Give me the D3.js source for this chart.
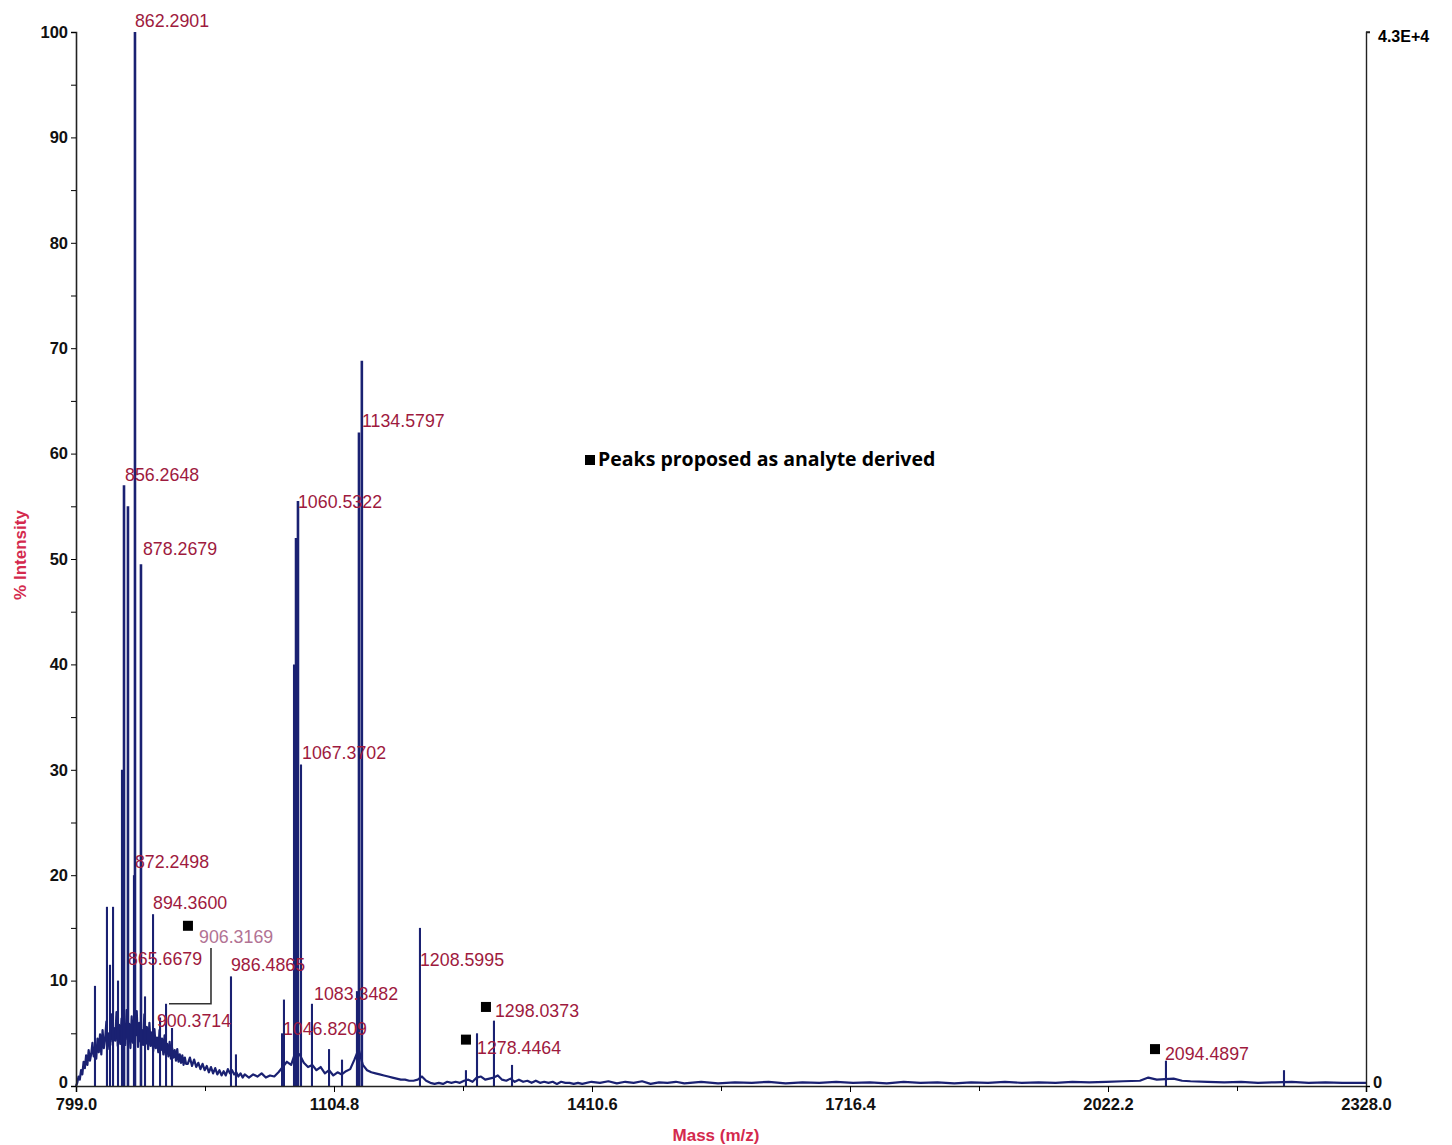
<!DOCTYPE html>
<html>
<head>
<meta charset="utf-8">
<script src="https://cdn.jsdelivr.net/npm/d3@7"></script>
<style>
  body { margin: 0; background: #fff; }
  svg { display: block; }
  .tick text { font-family: "Liberation Sans", Arial, sans-serif; font-weight: bold; font-size: 16.5px; fill: #111; }
  .peak-label { font-family: "Liberation Sans", Arial, sans-serif; font-size: 17.8px; fill: #9e1a3e; }
</style>
</head>
<body>
<svg id="chart" width="1452" height="1145"></svg>
<script>
  // ---- data ----
  const xTickLabels = ["799.0", "1104.8", "1410.6", "1716.4", "2022.2", "2328.0"];
  const yTicks = [0, 10, 20, 30, 40, 50, 60, 70, 80, 90, 100];

  // noisy baseline [m/z, % intensity]
  const baseline = [
    [799, 0], [800.5, 0.3], [802, 0.9], [803.5, 0.6], [805, 1.5], [806.5, 1.1], [808, 2.3], [809.5, 1.7],
    [811, 2.9], [812.5, 2.0], [814, 3.4], [815.5, 2.4], [817, 3.0], [818.5, 4.1], [820, 2.8], [821.5, 3.7],
    [823, 2.6], [824.5, 4.5], [826, 3.2], [827.5, 4.9], [829, 3.0], [830.5, 5.3], [832, 3.6], [833.5, 4.4],
    [835, 6.1], [836.5, 3.5], [838, 5.0], [839.5, 4.2], [841, 6.8], [842.5, 3.9], [844, 5.5], [845.5, 4.3],
    [847, 7.0], [848.5, 3.8], [850, 5.8], [851.5, 4.0], [853, 6.4], [854.5, 4.6], [856, 5.7], [857.5, 3.9],
    [859, 7.2], [860.5, 4.4], [862, 5.9], [863.5, 3.6], [865, 6.6], [866.5, 4.1], [868, 5.4], [869.5, 4.8],
    [871, 7.1], [872.5, 3.7], [874, 6.0], [875.5, 4.2], [877, 5.3], [878.5, 3.9], [880, 6.8], [881.5, 4.0],
    [883, 5.6], [884.5, 3.5], [886, 6.0], [887.5, 3.8], [889, 5.1], [890.5, 3.3], [892, 5.4], [893.5, 3.6],
    [895, 4.6], [896.5, 3.2], [898, 5.3], [899.5, 3.4], [901, 4.5], [902.5, 3.0], [904, 4.8], [905.5, 2.9],
    [907, 4.0], [908.5, 2.8], [910, 4.2], [911.5, 2.6], [913, 3.6], [914.5, 2.7], [916, 3.4], [917.5, 2.4],
    [919, 3.5], [920.5, 2.3], [922, 3.0], [923.5, 2.2], [925, 2.9], [926.5, 2.0], [928, 2.7], [929.5, 2.1],
    [931.5, 2.1], [934, 2.7], [936.5, 1.9], [939, 2.5], [941.5, 1.8], [944, 2.2], [946.5, 1.6], [949, 2.1],
    [951.5, 1.5], [954, 1.9], [956.5, 1.3], [959, 1.8], [961.5, 1.2], [964, 1.7], [966.5, 1.1], [969, 1.5],
    [971.5, 1.0], [974, 1.4], [976.5, 1.0], [979, 1.6], [981.5, 1.2], [984, 1.5], [986.5, 1.1], [989, 1.3],
    [991.5, 0.9], [994, 1.2], [996.5, 0.8], [999, 1.1], [1004, 0.8], [1009, 1.1], [1014, 0.9], [1019, 1.2],
    [1024, 0.8], [1029, 1.0], [1034, 0.9], [1039, 1.3], [1044, 1.8], [1049, 2.3], [1054, 2.0], [1059, 3.2],
    [1064, 3.0], [1069, 2.2], [1074, 1.8], [1079, 2.0], [1084, 1.5], [1089, 1.8], [1094, 1.2], [1099, 1.5],
    [1104, 1.0], [1109, 1.3], [1114, 1.1], [1119, 1.4], [1124, 1.6], [1129, 2.5], [1134, 3.5], [1139, 2.0],
    [1144, 1.5], [1149, 1.3], [1154, 1.2], [1159, 1.1], [1164, 1.0], [1169, 0.9], [1174, 0.8], [1179, 0.7],
    [1184, 0.6], [1189, 0.6], [1194, 0.5], [1199, 0.5], [1204, 0.6], [1209, 0.9], [1214, 0.5], [1219, 0.3],
    [1224, 0.2], [1229, 0.3], [1234, 0.2], [1239, 0.4], [1244, 0.3], [1249, 0.4], [1254, 0.3], [1259, 0.5],
    [1264, 0.6], [1269, 0.4], [1274, 0.8], [1279, 0.9], [1284, 0.6], [1289, 0.7], [1294, 0.8], [1299, 1.0],
    [1304, 0.6], [1309, 0.5], [1314, 0.7], [1319, 0.4], [1324, 0.6], [1329, 0.4], [1334, 0.5], [1339, 0.3],
    [1344, 0.5], [1349, 0.3], [1354, 0.4], [1359, 0.3], [1364, 0.4], [1369, 0.2], [1374, 0.4], [1379, 0.3],
    [1384, 0.3], [1389, 0.2], [1394, 0.3], [1399, 0.2], [1410, 0.4], [1420, 0.3], [1430, 0.45], [1440, 0.25],
    [1450, 0.4], [1460, 0.3], [1470, 0.45], [1480, 0.2], [1490, 0.35], [1500, 0.3], [1510, 0.4], [1520, 0.25],
    [1540, 0.4], [1560, 0.25], [1580, 0.35], [1600, 0.3], [1620, 0.4], [1640, 0.25], [1660, 0.35],
    [1680, 0.3], [1700, 0.4], [1720, 0.3], [1740, 0.35], [1760, 0.25], [1780, 0.4], [1800, 0.3],
    [1820, 0.35], [1840, 0.25], [1860, 0.35], [1880, 0.3], [1900, 0.4], [1920, 0.3], [1940, 0.35],
    [1960, 0.3], [1980, 0.4], [2000, 0.35], [2020, 0.4], [2040, 0.45], [2060, 0.5], [2070, 0.8],
    [2080, 0.6], [2100, 0.7], [2110, 0.5], [2120, 0.45], [2140, 0.4], [2160, 0.35], [2180, 0.4],
    [2200, 0.3], [2220, 0.35], [2240, 0.4], [2260, 0.3], [2280, 0.35], [2300, 0.3], [2328, 0.3]
  ];

  // peak sticks [m/z, % intensity]
  const peaks = [
    [821.5, 9.5], [835.7, 17], [839.3, 11.5], [842.9, 17], [848.8, 10], [853.5, 30], [855.9, 57],
    [860.6, 55], [867.7, 20], [868.9, 100], [876.0, 49.5], [880.8, 8.5], [890.3, 16.3], [898.6, 6.5],
    [905.7, 7.8], [912.8, 5.5], [982.7, 10.4], [988.6, 3], [1043.2, 5], [1045.5, 8.2], [1057.4, 40],
    [1059.8, 52], [1062.1, 55.5], [1065.7, 30.5], [1078.7, 7.8], [1098.9, 3.5], [1114.3, 2.5],
    [1132.0, 9], [1134.4, 62], [1137.8, 68.8], [1206.7, 15], [1261.2, 1.5], [1274.3, 5],
    [1294.4, 6.2], [1315.8, 2], [2090.9, 2.4], [2230.8, 1.5]
  ];

  // peak labels: text, anchor m/z, anchor intensity
  const labelText = ["862.2901", "856.2648", "878.2679", "872.2498", "894.3600", "906.3169", "865.6679",
    "900.3714", "986.4865", "1060.5322", "1067.3702", "1134.5797", "1083.3482", "1046.8209",
    "1208.5995", "1298.0373", "1278.4464", "2094.4897"];
  const labelMz = [868.9, 857.1, 878.4, 868.9, 890.3, 944.8, 860.6, 895.0, 982.7, 1062.1, 1066.9,
    1138.0, 1081.1, 1044.3, 1206.7, 1295.6, 1274.3, 2089.7];
  const labelInt = [100.5, 57.4, 50.4, 20.7, 16.8, 13.6, 11.5, 5.6, 10.9, 54.8, 31.0, 62.5, 8.2, 4.8,
    11.4, 6.5, 3.0, 2.5];

  // "analyte derived" markers
  const markers = [[931.7, 15.2], [1284.9, 7.5], [1261.2, 4.4], [2077.9, 3.5]];
  // bracket from 906.3169 label down to its peak
  const bracket = [[959.0, 13.1], [959.0, 7.8], [909.2, 7.8]];

  // ---- layout ----
  const svg = d3.select("#chart");
  const x = d3.scaleLinear().domain([799, 2328]).range([76, 1366]);
  const y = d3.scaleLinear().domain([0, 100]).range([1086, 32]);
  const ink = "#1a2172";
  const font = "Liberation Sans, Arial, sans-serif";

  // spectrum baseline
  svg.append("path")
    .datum(baseline)
    .attr("fill", "none")
    .attr("stroke", ink)
    .attr("stroke-width", 2.2)
    .attr("stroke-linejoin", "round")
    .attr("d", d3.line().x(d => x(d[0])).y(d => y(d[1])));

  // peaks
  svg.selectAll(".peak")
    .data(peaks)
    .enter()
    .append("line")
    .attr("class", "peak")
    .attr("x1", d => x(d[0])).attr("x2", d => x(d[0]))
    .attr("y1", y(0)).attr("y2", d => y(d[1]))
    .attr("stroke", ink)
    .attr("stroke-width", d => d[1] > 40 ? 2.6 : 2.1);

  // axes
  const xVals = xTickLabels.map(Number);
  const xMinor = xVals.slice(1).map((v, i) => (v + xVals[i]) / 2);
  svg.append("g")
    .attr("transform", `translate(0,${y(0)})`)
    .call(d3.axisBottom(x).tickValues(xVals).tickSize(6).tickPadding(6)
      .tickFormat((d, i) => xTickLabels[i]))
    .call(g => g.select(".domain").attr("stroke", "#222").attr("stroke-width", 1.6));
  svg.append("g")
    .attr("transform", `translate(0,${y(0)})`)
    .call(d3.axisBottom(x).tickValues(xMinor).tickSize(5).tickFormat(""))
    .call(g => g.select(".domain").remove());

  const yAll = d3.range(0, 101, 5);
  svg.append("g")
    .attr("transform", `translate(${x(799)},0)`)
    .call(d3.axisLeft(y).tickValues(yAll).tickSize(5).tickPadding(3)
      .tickFormat(d => yTicks.includes(d) ? d : ""))
    .call(g => g.select(".domain").attr("stroke", "#222").attr("stroke-width", 1.6))
    .call(g => g.selectAll(".tick text").filter(d => d === 0).attr("dy", "0.1em"));

  // right axis
  svg.append("g")
    .attr("transform", `translate(${x(2328)},0)`)
    .call(d3.axisRight(y).tickValues([0]).tickSize(4).tickPadding(3).tickFormat(() => "0"))
    .call(g => g.select(".domain").attr("stroke", "#222").attr("stroke-width", 1.4))
    .call(g => g.selectAll(".tick text").attr("dy", "0.1em"));
  svg.append("line")
    .attr("x1", x(2328)).attr("x2", x(2328) + 4)
    .attr("y1", y(100)).attr("y2", y(100))
    .attr("stroke", "#222").attr("stroke-width", 1.4);
  svg.append("text")
    .attr("x", x(2328) + 12).attr("y", y(100) + 10)
    .style("font-family", font)
    .style("font-weight", "bold").style("font-size", "16px")
    .text("4.3E+4");

  // axis titles
  svg.append("text")
    .attr("x", 716).attr("y", 1141)
    .attr("text-anchor", "middle")
    .style("font-family", font)
    .style("font-weight", "bold").style("font-size", "17px")
    .attr("fill", "#d42a4e")
    .text("Mass (m/z)");
  svg.append("text")
    .attr("transform", "translate(26,555) rotate(-90)")
    .attr("text-anchor", "middle")
    .style("font-family", font)
    .style("font-weight", "bold").style("font-size", "17px")
    .attr("fill", "#d42a4e")
    .text("% Intensity");

  // bracket
  svg.append("path")
    .datum(bracket)
    .attr("fill", "none")
    .attr("stroke", "#333")
    .attr("stroke-width", 1.6)
    .attr("d", d3.line().x(d => x(d[0])).y(d => y(d[1])));

  // peak labels
  svg.selectAll(".peak-label")
    .data(labelText)
    .enter()
    .append("text")
    .attr("class", "peak-label")
    .attr("x", (d, i) => x(labelMz[i]))
    .attr("y", (d, i) => y(labelInt[i]))
    .style("fill", d => d === "906.3169" ? "#b27394" : null)
    .text(d => d);

  // markers
  svg.selectAll(".marker")
    .data(markers)
    .enter()
    .append("rect")
    .attr("class", "marker")
    .attr("x", d => x(d[0]) - 5)
    .attr("y", d => y(d[1]) - 5)
    .attr("width", 10).attr("height", 10)
    .attr("fill", "#000");

  // legend
  svg.append("rect")
    .attr("x", 585).attr("y", 455).attr("width", 10).attr("height", 10)
    .attr("fill", "#000");
  svg.append("text")
    .attr("x", 598).attr("y", 466)
    .style("font-family", "Open Sans, sans-serif")
    .style("font-weight", "bold").style("font-size", "19.5px")
    .attr("fill", "#000")
    .text("Peaks proposed as analyte derived");
</script>
</body>
</html>
